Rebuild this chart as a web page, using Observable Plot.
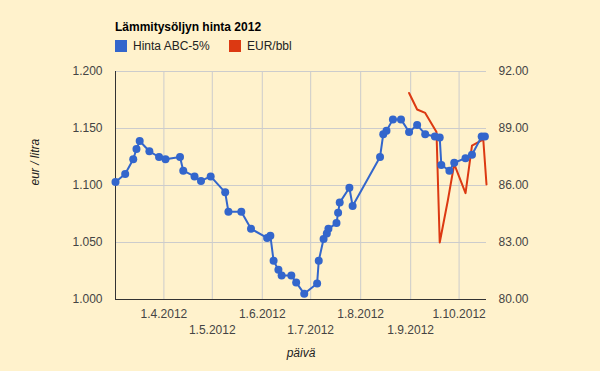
<!DOCTYPE html>
<html><head><meta charset="utf-8">
<script src="https://cdn.jsdelivr.net/npm/d3@7"></script>
<script src="https://cdn.jsdelivr.net/npm/@observablehq/plot@0.6"></script>
<style>
body{margin:0;background:#fff2cc;}
#wrap{width:600px;height:371px;background:#fff2cc;font-family:Arial,"Liberation Sans",sans-serif;position:relative;overflow:hidden}
#head{height:60px;position:relative}
.title{position:absolute;left:115px;top:20px;font-weight:bold;font-size:12px;line-height:14px;color:#000}
.leg{position:absolute;top:40px;height:12px;display:flex;align-items:center;font-size:12px;color:#222}
.sw{width:12px;height:12px;margin-right:6px}
svg{display:block}
</style>
</head><body>
<div id="wrap">
  <div id="head">
    <div class="title">Lämmitysöljyn hinta 2012</div>
    <div class="leg" style="left:115px"><div class="sw" style="background:#3366cc"></div><span>Hinta ABC-5%</span></div>
    <div class="leg" style="left:229px"><div class="sw" style="background:#dc3912"></div><span>EUR/bbl</span></div>
  </div>
  <div id="chart"></div>
</div>
<script>
// Hinta ABC-5% (eur / litra)
const blueDates = ["2012-03-02","2012-03-08","2012-03-13","2012-03-15","2012-03-17","2012-03-23","2012-03-29","2012-04-02","2012-04-11","2012-04-13","2012-04-20","2012-04-24","2012-04-30","2012-05-09","2012-05-11","2012-05-19","2012-05-25","2012-06-04","2012-06-06","2012-06-08","2012-06-11","2012-06-13","2012-06-19","2012-06-22","2012-06-27","2012-07-05","2012-07-06","2012-07-09","2012-07-11","2012-07-12","2012-07-17","2012-07-18","2012-07-19","2012-07-25","2012-07-27","2012-08-13","2012-08-15","2012-08-17","2012-08-21","2012-08-26","2012-08-31","2012-09-05","2012-09-10","2012-09-16","2012-09-19","2012-09-20","2012-09-25","2012-09-28","2012-10-05","2012-10-09","2012-10-15","2012-10-17"];
const blueValues = [1.103,1.110,1.123,1.132,1.139,1.130,1.125,1.123,1.125,1.113,1.108,1.104,1.108,1.094,1.077,1.077,1.062,1.054,1.056,1.034,1.026,1.021,1.021,1.015,1.005,1.014,1.034,1.053,1.058,1.062,1.067,1.076,1.085,1.098,1.082,1.125,1.145,1.148,1.158,1.158,1.147,1.153,1.145,1.143,1.142,1.118,1.113,1.120,1.124,1.127,1.143,1.143];
// EUR/bbl (right axis)
const redDates = ["2012-08-31","2012-09-05","2012-09-10","2012-09-17","2012-09-19","2012-09-24","2012-09-28","2012-10-05","2012-10-09","2012-10-15","2012-10-16","2012-10-18"];
const redValues = [90.87,90.0,89.82,88.82,83.0,85.2,87.13,85.6,88.1,88.37,88.42,86.05];
// axis ticks
const leftTicks = [1.0,1.05,1.1,1.15,1.2];
const rightTicks = [80,83,86,89,92];
const xTicksRow1 = ["2012-04-01","2012-06-01","2012-08-01","2012-10-01"];
const xTicksRow2 = ["2012-05-01","2012-07-01","2012-09-01"];

const parse = s => new Date(s + "T00:00:00Z");
const toLeft = v => 1.0 + (v - 80) / 12 * 0.2;
const blue = blueDates.map((d,i) => ({date: parse(d), value: blueValues[i]}));
const red = redDates.map((d,i) => ({date: parse(d), value: toLeft(redValues[i])}));
const fmtDate = d => `${d.getUTCDate()}.${d.getUTCMonth()+1}.${d.getUTCFullYear()}`;
const allMonths = xTicksRow1.concat(xTicksRow2).map(parse);

const font = "Arial, 'Liberation Sans', sans-serif";
const chart = Plot.plot({
  width: 600, height: 311,
  marginTop: 11, marginBottom: 72, marginLeft: 115, marginRight: 114,
  style: {background: "transparent", fontFamily: font, fontSize: "12px", color: "#444"},
  x: {type: "utc", domain: [parse("2012-03-02"), parse("2012-10-18")]},
  y: {domain: [1.0, 1.2]},
  marks: [
    Plot.gridX(allMonths, {stroke: "#cccccc", strokeOpacity: 1}),
    Plot.gridY(leftTicks, {stroke: "#cccccc", strokeOpacity: 1}),
    Plot.axisY(leftTicks, {anchor: "left", tickSize: 0, tickPadding: 13, tickFormat: d3.format(".3f"), label: null, fill: "#444"}),
    Plot.axisY(rightTicks.map(toLeft), {anchor: "right", tickSize: 0, tickPadding: 12, tickFormat: (d, i) => rightTicks[i].toFixed(2), label: null, fill: "#444"}),
    Plot.axisX(xTicksRow1.map(parse), {anchor: "bottom", tickSize: 0, tickPadding: 10, tickFormat: fmtDate, label: null, fill: "#444"}),
    Plot.axisX(xTicksRow2.map(parse), {anchor: "bottom", tickSize: 0, tickPadding: 26, tickFormat: fmtDate, label: null, fill: "#444"}),
    Plot.ruleX([0], {x: () => parse("2012-03-02"), stroke: "#333", strokeWidth: 1}),
    Plot.ruleY([1.0], {stroke: "#333", strokeWidth: 1}),
    Plot.line(red, {x: "date", y: "value", stroke: "#dc3912", strokeWidth: 2}),
    Plot.line(blue, {x: "date", y: "value", stroke: "#3366cc", strokeWidth: 2}),
    Plot.dot(blue, {x: "date", y: "value", r: 4, fill: "#3366cc", stroke: "none"}),
    Plot.text(["eur / litra"], {frameAnchor: "left", dx: -80, rotate: -90, fontStyle: "italic", fill: "#222", fontSize: 12}),
    Plot.text(["päivä"], {frameAnchor: "bottom", dy: 57, fontStyle: "italic", fill: "#222", fontSize: 12})
  ]
});
document.getElementById("chart").appendChild(chart);
</script>
</body></html>
